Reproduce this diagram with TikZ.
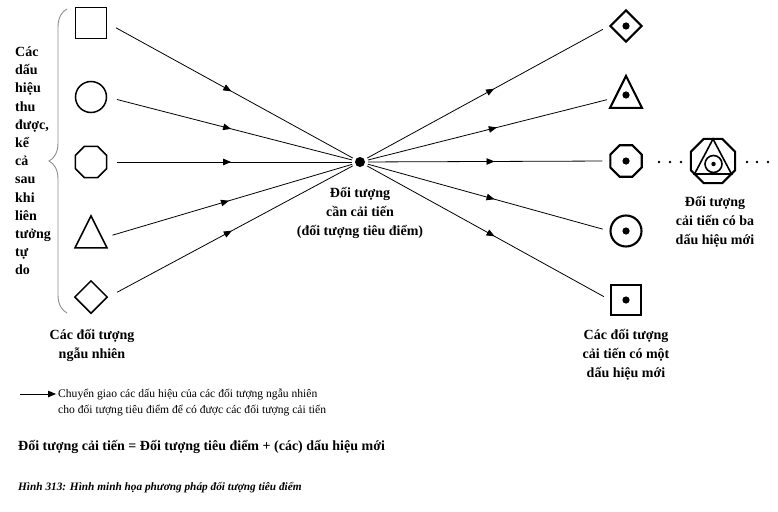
\documentclass[tikz,border=0pt]{standalone}
\usepackage{fontspec}
\setmainfont{Liberation Serif}
\usetikzlibrary{shapes.geometric,arrows.meta,decorations.markings,decorations.pathreplacing}

\tikzset{
  sym/.style={draw, line width=1.5pt, inner sep=0pt, minimum size=31pt},
  symr/.style={sym, line width=2.1pt},
  tri/.style={isosceles triangle, shape border rotate=90, isosceles triangle stretches,
    minimum width=32pt, minimum height=32pt},
  oct/.style={regular polygon, regular polygon sides=8, minimum size=34pt},
  link/.style={line width=0.8pt},
  midarrow/.style={postaction={decorate}, decoration={markings,
    mark=at position #1 with {\arrow{Triangle[length=8pt,width=6.5pt]}}}},
  lbl/.style={font=\fontsize{14}{19}\selectfont\bfseries, align=center},
  txt/.style={anchor=west, inner sep=0pt, align=left},
}

\begin{document}
\begin{tikzpicture}[x=1pt,y=-1pt]
\useasboundingbox (0,0) rectangle (778,511);

% random objects
\node[sym, rectangle] (L1) at (91,23) {};
\node[sym, circle] (L2) at (91,97) {};
\node[sym, oct] (L3) at (91,162) {};
\node[sym, tri] (L4) at (91,238) {};
\node[sym, diamond, minimum size=33pt] (L5) at (91,297) {};

% focus object
\node[circle, fill, inner sep=0pt, minimum size=10pt] (F) at (360,162) {};

% improved objects, one new sign
\node[symr, diamond, minimum size=32pt] (R1) at (626,26) {};
\node[symr, tri] (R2) at (626,98) {};
\node[symr, oct] (R3) at (626,161) {};
\node[symr, circle] (R4) at (626,231) {};
\node[symr, rectangle, minimum size=30pt] (R5) at (626,300) {};
\foreach \n in {R1,R3,R4,R5}
  \fill (\n) circle (3.6pt);
\fill (626,95) circle (3.6pt);

% improved object, three new signs
\node[symr, oct, minimum size=48pt] (T) at (713,161) {};
\draw[line width=1.6pt] (694.5,174) -- (713,139) -- (731.5,174) -- cycle;
\draw[line width=1.6pt] (713.5,164) circle (8.5pt);
\fill (713.5,164) circle (2.2pt);
\foreach \x in {659,670,681,747,757,768}
  \fill (\x,162) circle (1.3pt);

% transfer of signs
\foreach \n in {L1,L2,L3,L4,L5}
  \draw[link, midarrow=0.5, shorten <=10pt, shorten >=3pt] (\n.east) -- (F);
\foreach \n in {R1,R2,R3,R4,R5}
  \draw[link, midarrow=0.53, shorten <=3pt, shorten >=7pt] (F) -- (\n.west);

\draw[decorate, decoration={brace, amplitude=18pt}, black!45, line width=0.9pt]
  (67,313) -- (67,9);

\node[txt, font=\fontsize{14}{18.2}\selectfont\bfseries] (signs) at (15,161)
  {Các\\dấu\\hiệu\\thu\\được,\\kể\\cả\\sau\\khi\\liên\\tưởng\\tự\\do};

\node[lbl] (rnd) at (92,345) {Các đối tượng\\ngẫu nhiên};
\node[lbl] (foc) at (360,213) {Đối tượng\\cần cải tiến\\(đối tượng tiêu điểm)};
\node[lbl] (one) at (626,355) {Các đối tượng\\cải tiến có một\\dấu hiệu mới};
\node[lbl] (three) at (715,222) {Đối tượng\\cải tiến có ba\\dấu hiệu mới};

% legend
\coordinate (k1) at (20,394);
\coordinate (k2) at (56,394);
\draw[link, -{Triangle[length=8pt,width=6.5pt]}] (k1) -- (k2);
\node[txt, font=\fontsize{11.6}{16}\selectfont] (key) at (58,402)
  {Chuyển giao các dấu hiệu của các đối tượng ngẫu nhiên\\cho đối tượng tiêu điểm để có được các đối tượng cải tiến};

\node[txt, font=\fontsize{14}{16}\selectfont\bfseries] (eq) at (18,447)
  {Đối tượng cải tiến = Đối tượng tiêu điểm + (các) dấu hiệu mới};
\node[txt, font=\fontsize{11.3}{13}\selectfont\bfseries\itshape] (cap) at (18,488)
  {Hình 313: Hình minh họa phương pháp đối tượng tiêu điểm};
\end{tikzpicture}
\end{document}
